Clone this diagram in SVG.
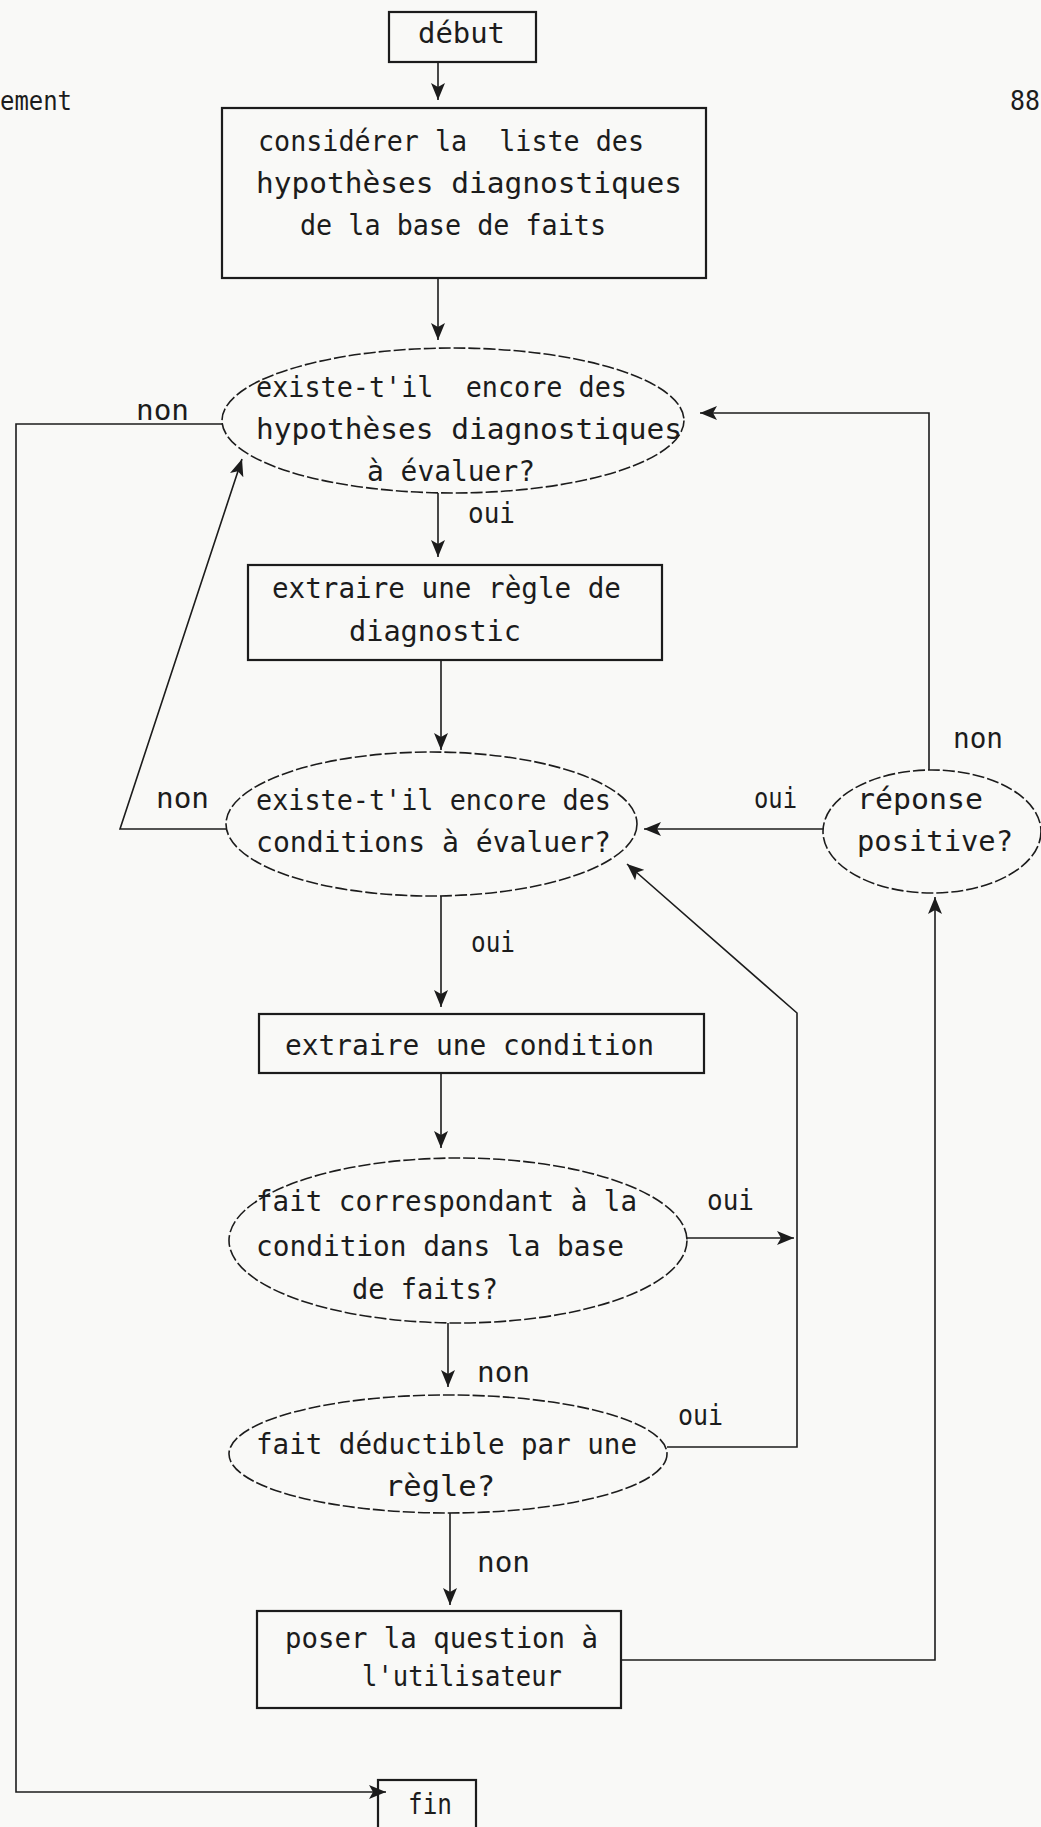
<svg xmlns="http://www.w3.org/2000/svg" width="1041" height="1827" viewBox="0 0 1041 1827">
  <style>
    text { font-family: "DejaVu Sans Mono", "Liberation Mono", monospace; font-size: 28px; fill: #1c1c1c; }
    .page { font-size: 26px; }
    .box { fill: none; stroke: #1c1c1c; stroke-width: 2.2; }
    .oval { fill: none; stroke: #1c1c1c; stroke-width: 1.6; stroke-dasharray: 12 3; }
    .conn { fill: none; stroke: #1c1c1c; stroke-width: 1.6; }
  </style>
  <defs>
    <marker id="arrow" markerUnits="userSpaceOnUse" markerWidth="18" markerHeight="14" refX="17" refY="7" orient="auto">
      <path d="M0,0 L17,7 L0,14 L4,7 z" fill="#1c1c1c"/>
    </marker>
  </defs>
  <rect width="1041" height="1827" fill="#f9f9f7"/>

  <g id="page-marks">
    <text class="page" x="0" y="110" textLength="72" lengthAdjust="spacingAndGlyphs">ement</text>
    <text class="page" x="1010" y="110" textLength="30" lengthAdjust="spacingAndGlyphs">88</text>
  </g>

  <g id="connectors">
    <path class="conn" d="M438,62 V100" marker-end="url(#arrow)"/>
    <path class="conn" d="M438,278 V340" marker-end="url(#arrow)"/>
    <path class="conn" d="M438,493 V557" marker-end="url(#arrow)"/>
    <path class="conn" d="M441,660 V750" marker-end="url(#arrow)"/>
    <path class="conn" d="M441,896 V1007" marker-end="url(#arrow)"/>
    <path class="conn" d="M441,1073 V1148" marker-end="url(#arrow)"/>
    <path class="conn" d="M448,1323 V1387" marker-end="url(#arrow)"/>
    <path class="conn" d="M450,1513 V1605" marker-end="url(#arrow)"/>
    <path class="conn" d="M223,424 H16 V1792 H386" marker-end="url(#arrow)"/>
    <path class="conn" d="M226,829 H120 L242,459" marker-end="url(#arrow)"/>
    <path class="conn" d="M823,829 H644" marker-end="url(#arrow)"/>
    <path class="conn" d="M929,770 V413 H700" marker-end="url(#arrow)"/>
    <path class="conn" d="M687,1238 H794" marker-end="url(#arrow)"/>
    <path class="conn" d="M667,1447 H797 V1013 L627,864" marker-end="url(#arrow)"/>
    <path class="conn" d="M621,1660 H935 V897" marker-end="url(#arrow)"/>
    <text x="136" y="420" textLength="53" lengthAdjust="spacingAndGlyphs">non</text>
    <text x="468" y="523" textLength="47" lengthAdjust="spacingAndGlyphs">oui</text>
    <text x="156" y="808" textLength="53" lengthAdjust="spacingAndGlyphs">non</text>
    <text x="754" y="808" textLength="43" lengthAdjust="spacingAndGlyphs">oui</text>
    <text x="953" y="748" textLength="50" lengthAdjust="spacingAndGlyphs">non</text>
    <text x="471" y="952" textLength="44" lengthAdjust="spacingAndGlyphs">oui</text>
    <text x="707" y="1210" textLength="47" lengthAdjust="spacingAndGlyphs">oui</text>
    <text x="477" y="1382" textLength="53" lengthAdjust="spacingAndGlyphs">non</text>
    <text x="678" y="1425" textLength="45" lengthAdjust="spacingAndGlyphs">oui</text>
    <text x="477" y="1572" textLength="53" lengthAdjust="spacingAndGlyphs">non</text>
  </g>

  <g id="debut">
    <rect class="box" x="389" y="12" width="147" height="50"/>
    <text x="418" y="43" textLength="87" lengthAdjust="spacingAndGlyphs">début</text>
  </g>

  <g id="considerer">
    <rect class="box" x="222" y="108" width="484" height="170"/>
    <text x="258" y="151" textLength="386" lengthAdjust="spacingAndGlyphs" xml:space="preserve">considérer la  liste des</text>
    <text x="256" y="193" textLength="426" lengthAdjust="spacingAndGlyphs">hypothèses diagnostiques</text>
    <text x="300" y="235" textLength="306" lengthAdjust="spacingAndGlyphs">de la base de faits</text>
  </g>

  <g id="hypotheses">
    <ellipse class="oval" cx="453" cy="420.5" rx="231" ry="72.5"/>
    <text x="256" y="397" textLength="371" lengthAdjust="spacingAndGlyphs" xml:space="preserve">existe-t'il  encore des</text>
    <text x="256" y="439" textLength="426" lengthAdjust="spacingAndGlyphs">hypothèses diagnostiques</text>
    <text x="367" y="481" textLength="168" lengthAdjust="spacingAndGlyphs">à évaluer?</text>
  </g>

  <g id="extraire-regle">
    <rect class="box" x="248" y="565" width="414" height="95"/>
    <text x="272" y="598" textLength="349" lengthAdjust="spacingAndGlyphs">extraire une règle de</text>
    <text x="349" y="641" textLength="172" lengthAdjust="spacingAndGlyphs">diagnostic</text>
  </g>

  <g id="conditions">
    <ellipse class="oval" cx="431.5" cy="824" rx="205.5" ry="72"/>
    <text x="256" y="810" textLength="355" lengthAdjust="spacingAndGlyphs">existe-t'il encore des</text>
    <text x="256" y="852" textLength="355" lengthAdjust="spacingAndGlyphs">conditions à évaluer?</text>
  </g>

  <g id="reponse">
    <ellipse class="oval" cx="932" cy="831.5" rx="109" ry="61.5"/>
    <text x="857" y="809" textLength="126" lengthAdjust="spacingAndGlyphs">réponse</text>
    <text x="857" y="851" textLength="156" lengthAdjust="spacingAndGlyphs">positive?</text>
  </g>

  <g id="extraire-condition">
    <rect class="box" x="259" y="1014" width="445" height="59"/>
    <text x="285" y="1055" textLength="369" lengthAdjust="spacingAndGlyphs">extraire une condition</text>
  </g>

  <g id="fait-correspondant">
    <ellipse class="oval" cx="458" cy="1240.5" rx="229" ry="82.5"/>
    <text x="256" y="1211" textLength="381" lengthAdjust="spacingAndGlyphs">fait correspondant à la</text>
    <text x="256" y="1256" textLength="368" lengthAdjust="spacingAndGlyphs">condition dans la base</text>
    <text x="352" y="1299" textLength="146" lengthAdjust="spacingAndGlyphs">de faits?</text>
  </g>

  <g id="fait-deductible">
    <ellipse class="oval" cx="448" cy="1454" rx="219" ry="59"/>
    <text x="256" y="1454" textLength="381" lengthAdjust="spacingAndGlyphs">fait déductible par une</text>
    <text x="385" y="1496" textLength="110" lengthAdjust="spacingAndGlyphs">règle?</text>
  </g>

  <g id="poser-question">
    <rect class="box" x="257" y="1611" width="364" height="97"/>
    <text x="285" y="1648" textLength="313" lengthAdjust="spacingAndGlyphs">poser la question à</text>
    <text x="362" y="1686" textLength="200" lengthAdjust="spacingAndGlyphs">l'utilisateur</text>
  </g>

  <g id="fin">
    <rect class="box" x="378" y="1780" width="98" height="60"/>
    <text x="408" y="1814" textLength="44" lengthAdjust="spacingAndGlyphs">fin</text>
  </g>
</svg>
